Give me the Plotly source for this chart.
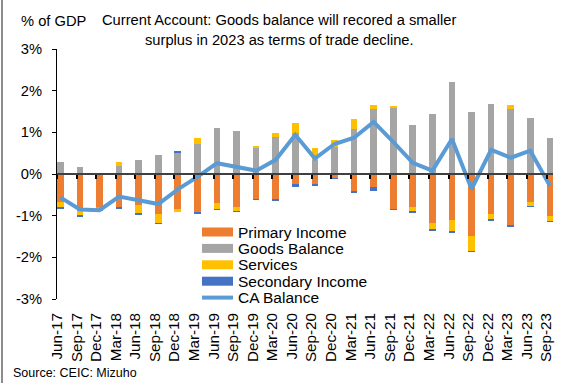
import plotly.graph_objects as go

# Quarterly current account components, % of GDP
quarters = ["Jun-17", "Sep-17", "Dec-17", "Mar-18", "Jun-18", "Sep-18", "Dec-18",
            "Mar-19", "Jun-19", "Sep-19", "Dec-19", "Mar-20", "Jun-20", "Sep-20",
            "Dec-20", "Mar-21", "Jun-21", "Sep-21", "Dec-21", "Mar-22", "Jun-22",
            "Sep-22", "Dec-22", "Mar-23", "Jun-23", "Sep-23"]

primary_income = [-0.66, -0.89, -0.80, -0.81, -0.75, -0.97, -0.84, -0.92, -0.70, -0.79,
                  -0.61, -0.60, -0.25, -0.26, -0.10, -0.43, -0.32, -0.84, -0.80, -1.17,
                  -1.11, -1.49, -0.96, -1.24, -0.68, -1.01]
goods_balance = [0.28, 0.17, -0.02, 0.20, 0.33, 0.46, 0.52, 0.72, 1.10, 1.03,
                 0.63, 0.90, 0.98, 0.34, 0.65, 1.09, 1.57, 1.60, 1.17, 1.44,
                 2.22, 1.48, 1.67, 1.56, 1.34, 0.86]
services = [-0.14, -0.11, -0.04, 0.09, -0.20, -0.22, -0.06, 0.14, -0.15, -0.11,
            0.04, 0.09, 0.24, 0.28, 0.17, 0.22, 0.09, 0.02, -0.10, -0.14,
            -0.26, -0.37, -0.14, 0.10, -0.09, -0.12]
secondary_income = [-0.05, -0.01, -0.01, -0.03, -0.03, -0.01, 0.01, -0.03, -0.01, -0.01,
                    -0.01, -0.03, -0.05, -0.01, -0.01, -0.03, -0.08, -0.01, -0.02, -0.05,
                    -0.04, -0.01, -0.01, -0.03, -0.02, -0.01]
ca_balance = [-0.56, -0.85, -0.87, -0.54, -0.63, -0.72, -0.37, -0.07, 0.26, 0.16,
              0.08, 0.34, 0.94, 0.37, 0.72, 0.87, 1.25, 0.77, 0.27, 0.08,
              0.84, -0.36, 0.58, 0.39, 0.56, -0.28]

y_ticks = [3, 2, 1, 0, -1, -2, -3]
y_tick_text = ["3%", "2%", "1%", "0%", "-1%", "-2%", "-3%"]

bar_series = [
    ("Primary Income", primary_income, "#ED7D31"),
    ("Goods Balance", goods_balance, "#A5A5A5"),
    ("Services", services, "#FFC000"),
    ("Secondary Income", secondary_income, "#4472C4"),
]
line_name, line_color = "CA Balance", "#5B9BD5"

title_lines = ["Current Account: Goods balance will recored a smaller",
               "surplus in 2023 as terms of trade decline."]

FONT = "Liberation Sans, Arial, sans-serif"
W, H = 563, 383
M_L, M_R, M_T, M_B = 57, 10, 49, 84
PW, PH = W - M_L - M_R, H - M_T - M_B

idx = list(range(len(quarters)))
bar_offset, bar_width = 0.17, 0.34
x_range = [0, len(quarters) - 1 + 0.33]

fig = go.Figure()
for name, vals, color in bar_series:
    fig.add_trace(go.Bar(
        x=[i + bar_offset for i in idx], y=vals, name=name, width=bar_width,
        marker=dict(color=color, line=dict(width=0)), showlegend=False,
    ))
fig.add_trace(go.Scatter(
    x=[i + bar_offset for i in idx], y=ca_balance, name=line_name, mode="lines",
    line=dict(color=line_color, width=4), showlegend=False, xaxis="x2",
))


def px_x(px):
    return (px - M_L) / PW


def px_y(py):
    return (H - M_B - py) / PH


# Hand-built legend: wide swatches with tight row spacing
shapes, annotations = [], []
leg_x0, leg_x1, leg_text_x, leg_y0, leg_step = 202, 233, 236, 232, 16.4
entries = [(n, c, "bar") for n, _, c in bar_series] + [(line_name, line_color, "line")]
for k, (name, color, kind) in enumerate(entries):
    cy = leg_y0 + k * leg_step
    if kind == "bar":
        shapes.append(dict(type="rect", xref="paper", yref="paper",
                           x0=px_x(leg_x0), x1=px_x(leg_x1),
                           y0=px_y(cy + 4.5), y1=px_y(cy - 4.5),
                           fillcolor=color, line=dict(width=0)))
    else:
        shapes.append(dict(type="line", xref="paper", yref="paper",
                           x0=px_x(leg_x0), x1=px_x(leg_x1),
                           y0=px_y(cy), y1=px_y(cy),
                           line=dict(color=color, width=4)))
    annotations.append(dict(text=name, xref="paper", yref="paper",
                             x=px_x(leg_text_x), y=px_y(cy), xanchor="left",
                             yanchor="middle", showarrow=False,
                             font=dict(family=FONT, size=15.5, color="#000000")))

# Frame line at the left edge of the chart
shapes.append(dict(type="line", xref="paper", yref="paper",
                   x0=px_x(2), x1=px_x(2), y0=px_y(0), y1=px_y(H),
                   line=dict(color="#8C8C8C", width=2)))

for line_text, cy in zip(title_lines, [20, 40.5]):
    annotations.append(dict(text=line_text, xref="paper", yref="paper",
                            x=px_x(279), y=px_y(cy), xanchor="center",
                            yanchor="middle", showarrow=False,
                            font=dict(family=FONT, size=14.7, color="#000000")))
annotations += [
    dict(text="% of GDP", xref="paper", yref="paper", x=px_x(54), y=px_y(21),
         xanchor="center", yanchor="middle", showarrow=False,
         font=dict(family=FONT, size=14.7, color="#000000")),
    dict(text="Source: CEIC: Mizuho", xref="paper", yref="paper", x=px_x(11),
         y=px_y(373), xanchor="left", yanchor="middle", showarrow=False,
         font=dict(family=FONT, size=12.5, color="#000000")),
]

fig.update_layout(
    width=W, height=H,
    margin=dict(l=M_L, r=M_R, t=M_T, b=M_B),
    paper_bgcolor="#FFFFFF", plot_bgcolor="#FFFFFF",
    barmode="relative", bargap=0,
    font=dict(family=FONT, size=14.7, color="#000000"),
    showlegend=False,
    xaxis=dict(range=x_range, tickvals=idx, ticktext=quarters, tickangle=-90,
               showline=False, ticks="", showgrid=False, zeroline=False,
               ticklabelstandoff=10, tickfont=dict(size=15.2)),
    xaxis2=dict(range=x_range, overlaying="x", anchor="free", position=0.5,
                side="bottom", showline=True, linecolor="#404040", linewidth=1.5,
                ticks="outside", ticklen=4, tickwidth=1.5, tickcolor="#000000",
                tickvals=idx, showticklabels=False, showgrid=False, zeroline=False),
    yaxis=dict(range=[-3, 3], tickvals=y_ticks, ticktext=y_tick_text,
               showline=True, linecolor="#000000", linewidth=1,
               ticks="outside", ticklen=4, tickcolor="#000000",
               showgrid=False, zeroline=False, ticklabelstandoff=7,
               tickfont=dict(size=14.7)),
    shapes=shapes, annotations=annotations,
)

fig.write_html("out.html")
